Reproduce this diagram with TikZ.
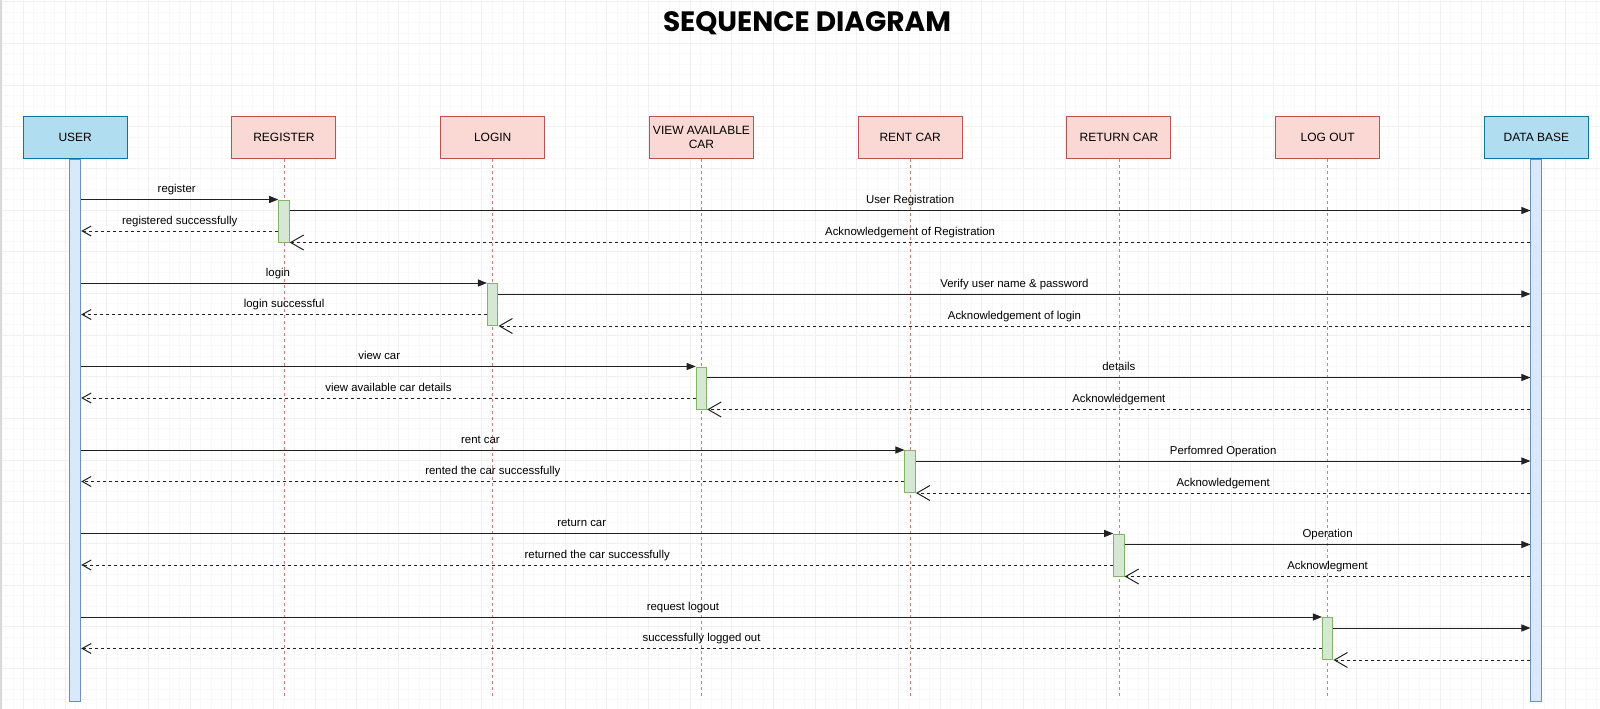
\documentclass[tikz,border=0pt]{standalone}
\usepackage{fontspec}
\setmainfont{Liberation Sans}
\newfontfamily\titlefont{Poppins}
\usetikzlibrary{arrows.meta,calc}
\definecolor{actfill}{HTML}{B1DDF0}
\definecolor{actdraw}{HTML}{10739E}
\definecolor{prtfill}{HTML}{FAD9D5}
\definecolor{prtdraw}{HTML}{B85450}
\definecolor{barfill}{HTML}{DAE8FC}
\definecolor{bardraw}{HTML}{6C8EBF}
\definecolor{gfill}{HTML}{D5E8D4}
\definecolor{gdraw}{HTML}{82B366}
\definecolor{lifec}{HTML}{D0807A}
\definecolor{gridmaj}{HTML}{F0F0F0}
\definecolor{gridmin}{HTML}{F9F9F9}
\definecolor{msgc}{HTML}{222222}
\tikzset{
  hdr/.style={draw=prtdraw, fill=prtfill, line width=1pt, minimum width=104pt,
    minimum height=42pt, inner sep=0pt, align=center,
    font=\fontsize{12}{13.4}\selectfont, anchor=north},
  actor/.style={hdr, draw=actdraw, fill=actfill},
  bar/.style={draw=bardraw, fill=barfill, line width=1pt, minimum width=11pt,
    minimum height=542pt, inner sep=0pt, anchor=north},
  actbox/.style={draw=gdraw, fill=gfill, line width=1pt, minimum width=10.5pt,
    minimum height=42pt, inner sep=0pt, anchor=north},
  lifeline/.style={draw=lifec, line width=0.9pt, dash pattern=on 3pt off 3pt},
  call/.style={draw=msgc, line width=1pt, -{Triangle[length=9pt,width=7pt]}},
  reply/.style={draw=msgc, line width=1pt, dash pattern=on 3pt off 3pt,
    -{Straight Barb[length=9pt,width=10pt]}},
  ret/.style={draw=msgc, line width=1pt, dash pattern=on 3pt off 3pt,
    -{Straight Barb[length=13pt,width=15pt]}},
  lbl/.style={font=\fontsize{11.4}{13}\selectfont, text=black, anchor=base,
    yshift=7pt, inner sep=0pt}
}
\newcommand\msgrow[6]{%
  \node[actbox] (a#1) at (p#1.center |- 0,#2) {};
  \coordinate (f#1) at ($(a#1.north east)+(0,11)$);
  \coordinate (r#1) at ($(a#1.north west)+(0,31.5)$);
  \draw[call] (b0.east |- a#1.north west) -- node[lbl, pos=0.485]{#3} (a#1.north west);
  \draw[call] (f#1) -- node[lbl]{#4} (f#1 -| b7.west);
  \draw[reply] (r#1) -- node[lbl]{#5} (r#1 -| b0.east);
  \draw[ret] (a#1.south east -| b7.west) -- node[lbl]{#6} (a#1.south east);
}
\begin{document}
\begin{tikzpicture}[x=1pt, y=-1pt]
\useasboundingbox (0,0) rectangle (1600,709);
\fill[white] (0,0) rectangle (1600,709);
% grid
\foreach \i in {0,...,153} \draw[gridmin, line width=0.6pt] (2.47+\i*10.417,0) -- ++(0,709);
\foreach \i in {0,...,68} \draw[gridmin, line width=0.6pt] (0,1.67+\i*10.417) -- ++(1600,0);
\foreach \i in {0,...,38} \draw[gridmaj, line width=0.7pt] (23.3+\i*41.67,0) -- ++(0,709);
\foreach \i in {0,...,17} \draw[gridmaj, line width=0.7pt] (0,1.67+\i*41.67) -- ++(1600,0);
\draw[black!15, line width=1.5pt] (0.75,0) -- (0.75,709);
% title
\node[font=\titlefont\bfseries\fontsize{28}{30}\selectfont, inner sep=0pt] (title) at (807,23.3) {SEQUENCE DIAGRAM};
% participants
\node[actor] (p0) at (75.2,116) {USER};
\node[hdr] (p1) at (283.95,116) {REGISTER};
\node[hdr] (p2) at (492.7,116) {LOGIN};
\node[hdr] (p3) at (701.45,116) {VIEW AVAILABLE\\CAR};
\node[hdr] (p4) at (910.2,116) {RENT CAR};
\node[hdr] (p5) at (1118.95,116) {RETURN CAR};
\node[hdr] (p6) at (1327.7,116) {LOG OUT};
\node[actor] (p7) at (1536.45,116) {DATA BASE};
% lifelines
\foreach \k in {1,...,6} {
  \coordinate (e\k) at (p\k.south |- 0,699);
  \draw[lifeline] (p\k.south) -- (e\k);
}
\node[bar] (b0) at (p0.south) {};
\node[bar] (b7) at (p7.south) {};
% messages
\msgrow{1}{199.5}{register}{User Registration}{registered successfully}{Acknowledgement of Registration}
\msgrow{2}{283}{login}{Verify user name \& password}{login successful}{Acknowledgement of login}
\msgrow{3}{366.5}{view car}{details}{view available car details}{Acknowledgement}
\msgrow{4}{450}{rent car}{Perfomred Operation}{rented the car successfully}{Acknowledgement}
\msgrow{5}{533.5}{return car}{Operation}{returned the car successfully}{Acknowlegment}
\msgrow{6}{617}{request logout}{}{successfully logged out}{}
\end{tikzpicture}
\end{document}
